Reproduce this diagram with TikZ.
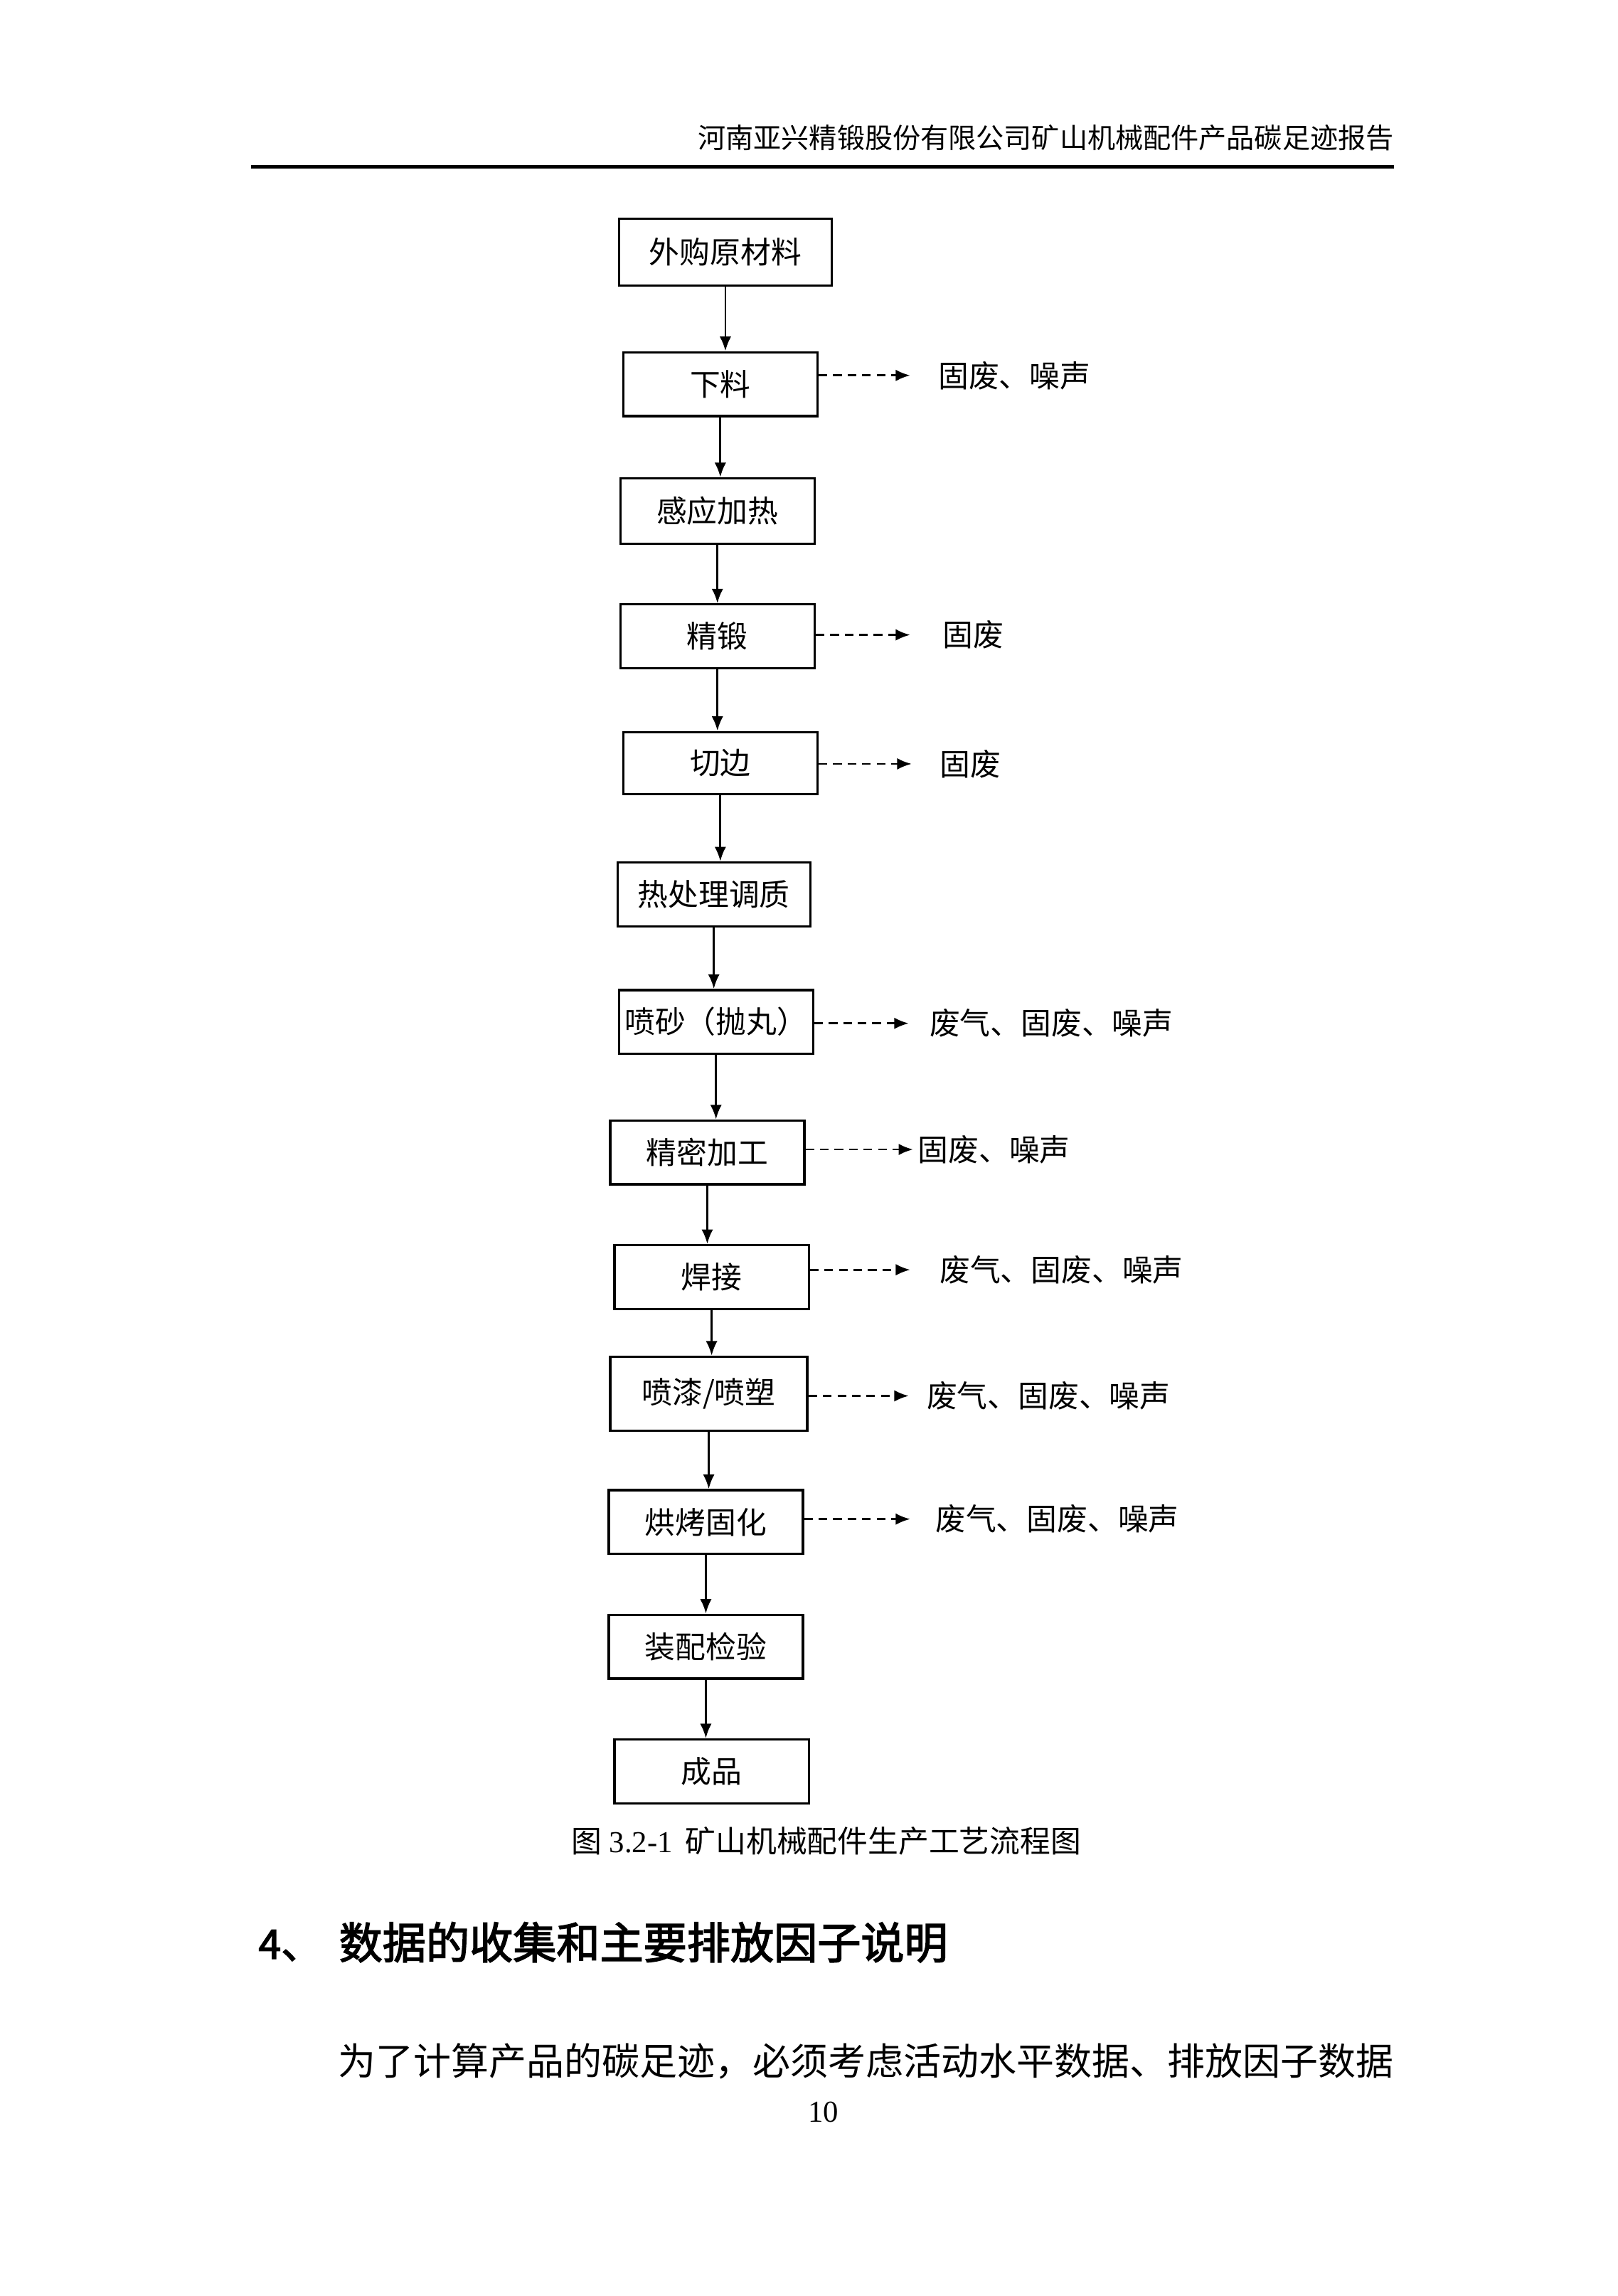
\documentclass[tikz,border=0pt]{standalone}
\usepackage{fontspec}
\newfontfamily\cjk{Noto Sans CJK SC}
\newfontfamily\cjkb[FakeBold=2.5]{Noto Sans CJK SC}
\setmainfont{Liberation Serif}
\usetikzlibrary{arrows.meta}
\tikzset{
 pbox/.style={draw,line width=0.8pt,inner sep=0pt,font=\cjk\fontsize{10.5}{12}\selectfont},
 flow/.style={-{Latex[length=5pt,width=4pt]},line width=0.7pt},
 waste/.style={-{Latex[length=5pt,width=4pt]},line width=0.7pt,dash pattern=on 3pt off 2pt},
 lab/.style={anchor=west,font=\cjk\fontsize{10.5}{12}\selectfont,inner sep=0pt}
}
\begin{document}
\begin{tikzpicture}[x=0.5pt,y=-0.5pt]
\useasboundingbox (0,0) rectangle (1116,1584);
\fill[white] (0,0) rectangle (1116,1584);
\node[anchor=east,inner sep=0pt,font=\cjk\fontsize{9.6}{12}\selectfont] (hdr) at (962,95) {河南亚兴精锻股份有限公司矿山机械配件产品碳足迹报告};
\draw[line width=1.2pt] (173,115) coordinate (hl) -- (962,115) coordinate (hr);
\def\bx#1#2#3#4#5#6{\node[pbox,minimum width=(#3-#2)*0.5pt,minimum height=(#5-#4)*0.5pt] (#1) at ({(#2+#3)/2},{(#4+#5)/2}) {#6};}
\bx{b1}{427}{574}{151}{197}{外购原材料}
\bx{b2}{430}{564}{243}{287}{下料}
\bx{b3}{428}{562}{330}{375}{感应加热}
\bx{b4}{428}{562}{417}{461}{精锻}
\bx{b5}{430}{564}{505}{548}{切边}
\bx{b6}{426}{559}{595}{639}{热处理调质}
\bx{b7}{427}{561}{683}{727}{喷砂（抛丸）}
\bx{b8}{421}{555}{773}{817}{精密加工}
\bx{b9}{424}{558}{859}{903}{焊接}
\bx{b10}{421}{557}{936}{987}{喷漆/喷塑}
\bx{b11}{420}{554}{1028}{1072}{烘烤固化}
\bx{b12}{420}{554}{1114}{1158}{装配检验}
\bx{b13}{424}{558}{1200}{1244}{成品}
\foreach \a/\b in {b1/b2,b2/b3,b3/b4,b4/b5,b5/b6,b6/b7,b7/b8,b8/b9,b9/b10,b10/b11,b11/b12,b12/b13}
 \draw[flow] (\a.south) -- (\a.south |- \b.north);
\def\ws#1#2#3#4#5{\coordinate (#1e) at (#3,#2); \draw[waste] (#1.east |- #1e) -- (#1e); \node[lab] (#1l) at (#4,#2) {#5};}
\ws{b2}{259}{628}{647}{固废、噪声}
\ws{b4}{438}{628}{650}{固废}
\ws{b5}{527}{629}{648}{固废}
\ws{b7}{706}{627}{641}{废气、固废、噪声}
\ws{b8}{793}{630}{633}{固废、噪声}
\ws{b9}{876}{628}{648}{废气、固废、噪声}
\ws{b10}{963}{627}{639}{废气、固废、噪声}
\ws{b11}{1048}{628}{645}{废气、固废、噪声}
\node[inner sep=0pt,font=\fontsize{10.5}{12}\selectfont] (cap) at (570,1270) {{\cjk 图} 3.2-1\, {\cjk 矿山机械配件生产工艺流程图}};
\node[anchor=west,inner sep=0pt,font=\cjkb\fontsize{14}{16}\selectfont] (h4) at (178,1340) {4、\hspace{6pt}{\fontsize{15}{16}\selectfont 数据的收集和主要排放因子说明}};
\node[anchor=west,inner sep=0pt,font=\cjk\fontsize{13}{14}\selectfont] (body) at (233,1422) {为了计算产品的碳足迹，必须考虑活动水平数据、排放因子数据};
\node[inner sep=0pt,font=\fontsize{10.5}{12}\selectfont] (pg) at (568,1457) {10};
\end{tikzpicture}
\end{document}
